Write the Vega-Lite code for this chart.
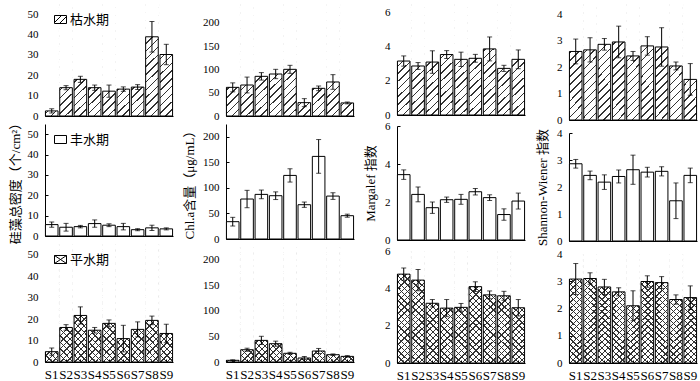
{
"$schema": "https://vega.github.io/schema/vega-lite/v6.json",
"padding": {"left": 8, "top": 4, "right": 0, "bottom": 0},
"datasets": {"d": [
{"m":"A","s":"枯水期","site":"S1","v":2.5,"e":1},{"m":"A","s":"枯水期","site":"S2","v":13.9,"e":1},{"m":"A","s":"枯水期","site":"S3","v":18.0,"e":1.5},{"m":"A","s":"枯水期","site":"S4","v":13.9,"e":1.3},{"m":"A","s":"枯水期","site":"S5","v":12.2,"e":3},{"m":"A","s":"枯水期","site":"S6","v":13.2,"e":1.1},{"m":"A","s":"枯水期","site":"S7","v":14.2,"e":1.2},{"m":"A","s":"枯水期","site":"S8","v":38.9,"e":7.5},{"m":"A","s":"枯水期","site":"S9","v":30.2,"e":5},
{"m":"A","s":"丰水期","site":"S1","v":5.6,"e":1.3},{"m":"A","s":"丰水期","site":"S2","v":4.3,"e":1.9},{"m":"A","s":"丰水期","site":"S3","v":4.6,"e":0.6},{"m":"A","s":"丰水期","site":"S4","v":6.1,"e":1.8},{"m":"A","s":"丰水期","site":"S5","v":5.3,"e":0.7},{"m":"A","s":"丰水期","site":"S6","v":4.6,"e":1.6},{"m":"A","s":"丰水期","site":"S7","v":3.1,"e":0.5},{"m":"A","s":"丰水期","site":"S8","v":4.0,"e":1.3},{"m":"A","s":"丰水期","site":"S9","v":3.5,"e":0.5},
{"m":"A","s":"平水期","site":"S1","v":4.8,"e":1.7},{"m":"A","s":"平水期","site":"S2","v":16.1,"e":1.3},{"m":"A","s":"平水期","site":"S3","v":21.7,"e":4},{"m":"A","s":"平水期","site":"S4","v":14.8,"e":1.3},{"m":"A","s":"平水期","site":"S5","v":18.0,"e":1.6},{"m":"A","s":"平水期","site":"S6","v":10.9,"e":6.2},{"m":"A","s":"平水期","site":"S7","v":15.2,"e":3.5},{"m":"A","s":"平水期","site":"S8","v":19.4,"e":2},{"m":"A","s":"平水期","site":"S9","v":13.3,"e":4.3},
{"m":"B","s":"枯水期","site":"S1","v":61.4,"e":9.6},{"m":"B","s":"枯水期","site":"S2","v":66.4,"e":17},{"m":"B","s":"枯水期","site":"S3","v":85,"e":8},{"m":"B","s":"枯水期","site":"S4","v":90,"e":10},{"m":"B","s":"枯水期","site":"S5","v":100,"e":8.6},{"m":"B","s":"枯水期","site":"S6","v":28.6,"e":8.6},{"m":"B","s":"枯水期","site":"S7","v":59.3,"e":5},{"m":"B","s":"枯水期","site":"S8","v":72.9,"e":15.7},{"m":"B","s":"枯水期","site":"S9","v":28,"e":2},
{"m":"B","s":"丰水期","site":"S1","v":33.9,"e":8.5},{"m":"B","s":"丰水期","site":"S2","v":78.2,"e":17},{"m":"B","s":"丰水期","site":"S3","v":87.3,"e":8.5},{"m":"B","s":"丰水期","site":"S4","v":84.7,"e":7.5},{"m":"B","s":"丰水期","site":"S5","v":124.4,"e":13},{"m":"B","s":"丰水期","site":"S6","v":67.1,"e":5.2},{"m":"B","s":"丰水期","site":"S7","v":161.6,"e":33},{"m":"B","s":"丰水期","site":"S8","v":84,"e":6.5},{"m":"B","s":"丰水期","site":"S9","v":45.6,"e":3},
{"m":"B","s":"平水期","site":"S1","v":3.3,"e":1},{"m":"B","s":"平水期","site":"S2","v":24,"e":3},{"m":"B","s":"平水期","site":"S3","v":42.3,"e":8},{"m":"B","s":"平水期","site":"S4","v":35.8,"e":5},{"m":"B","s":"平水期","site":"S5","v":17,"e":2},{"m":"B","s":"平水期","site":"S6","v":7.8,"e":3},{"m":"B","s":"平水期","site":"S7","v":21.5,"e":5},{"m":"B","s":"平水期","site":"S8","v":14.3,"e":1.5},{"m":"B","s":"平水期","site":"S9","v":11,"e":1.5},
{"m":"C","s":"枯水期","site":"S1","v":3.16,"e":0.3},{"m":"C","s":"枯水期","site":"S2","v":2.87,"e":0.2},{"m":"C","s":"枯水期","site":"S3","v":3.1,"e":0.66},{"m":"C","s":"枯水期","site":"S4","v":3.54,"e":0.23},{"m":"C","s":"枯水期","site":"S5","v":3.26,"e":0.42},{"m":"C","s":"枯水期","site":"S6","v":3.32,"e":0.23},{"m":"C","s":"枯水期","site":"S7","v":3.87,"e":0.7},{"m":"C","s":"枯水期","site":"S8","v":2.73,"e":0.18},{"m":"C","s":"枯水期","site":"S9","v":3.26,"e":0.55},
{"m":"C","s":"丰水期","site":"S1","v":3.44,"e":0.25},{"m":"C","s":"丰水期","site":"S2","v":2.4,"e":0.39},{"m":"C","s":"丰水期","site":"S3","v":1.7,"e":0.3},{"m":"C","s":"丰水期","site":"S4","v":2.12,"e":0.14},{"m":"C","s":"丰水期","site":"S5","v":2.14,"e":0.26},{"m":"C","s":"丰水期","site":"S6","v":2.54,"e":0.17},{"m":"C","s":"丰水期","site":"S7","v":2.23,"e":0.15},{"m":"C","s":"丰水期","site":"S8","v":1.34,"e":0.3},{"m":"C","s":"丰水期","site":"S9","v":2.05,"e":0.42},
{"m":"C","s":"平水期","site":"S1","v":4.76,"e":0.33},{"m":"C","s":"平水期","site":"S2","v":4.44,"e":0.57},{"m":"C","s":"平水期","site":"S3","v":3.2,"e":0.2},{"m":"C","s":"平水期","site":"S4","v":2.94,"e":0.46},{"m":"C","s":"平水期","site":"S5","v":2.98,"e":0.21},{"m":"C","s":"平水期","site":"S6","v":4.09,"e":0.26},{"m":"C","s":"平水期","site":"S7","v":3.65,"e":0.21},{"m":"C","s":"平水期","site":"S8","v":3.6,"e":0.24},{"m":"C","s":"平水期","site":"S9","v":2.96,"e":0.44},
{"m":"D","s":"枯水期","site":"S1","v":2.6,"e":0.47},{"m":"D","s":"枯水期","site":"S2","v":2.66,"e":0.46},{"m":"D","s":"枯水期","site":"S3","v":2.87,"e":0.22},{"m":"D","s":"枯水期","site":"S4","v":2.96,"e":0.6},{"m":"D","s":"枯水期","site":"S5","v":2.43,"e":0.17},{"m":"D","s":"枯水期","site":"S6","v":2.81,"e":0.35},{"m":"D","s":"枯水期","site":"S7","v":2.77,"e":0.73},{"m":"D","s":"枯水期","site":"S8","v":2.05,"e":0.15},{"m":"D","s":"枯水期","site":"S9","v":1.54,"e":0.6},
{"m":"D","s":"丰水期","site":"S1","v":2.86,"e":0.16},{"m":"D","s":"丰水期","site":"S2","v":2.43,"e":0.16},{"m":"D","s":"丰水期","site":"S3","v":2.18,"e":0.27},{"m":"D","s":"丰水期","site":"S4","v":2.39,"e":0.24},{"m":"D","s":"丰水期","site":"S5","v":2.64,"e":0.54},{"m":"D","s":"丰水期","site":"S6","v":2.55,"e":0.18},{"m":"D","s":"丰水期","site":"S7","v":2.58,"e":0.17},{"m":"D","s":"丰水期","site":"S8","v":1.49,"e":0.66},{"m":"D","s":"丰水期","site":"S9","v":2.43,"e":0.27},
{"m":"D","s":"平水期","site":"S1","v":3.08,"e":0.57},{"m":"D","s":"平水期","site":"S2","v":3.1,"e":0.21},{"m":"D","s":"平水期","site":"S3","v":2.79,"e":0.28},{"m":"D","s":"平水期","site":"S4","v":2.61,"e":0.15},{"m":"D","s":"平水期","site":"S5","v":2.1,"e":0.55},{"m":"D","s":"平水期","site":"S6","v":2.99,"e":0.21},{"m":"D","s":"平水期","site":"S7","v":2.95,"e":0.22},{"m":"D","s":"平水期","site":"S8","v":2.33,"e":0.17},{"m":"D","s":"平水期","site":"S9","v":2.4,"e":0.43}
]},
"data": {"name": "d"},
"spacing": 9,
"resolve": {"scale": {"stroke": "independent"}, "legend": {"stroke": "independent"}},
"hconcat": [
{"spacing": 8, "bounds": "flush", "resolve": {"scale": {"stroke": "independent"}, "legend": {"stroke": "independent"}},
 "vconcat": [
  {"width": 128, "height": 112, "transform": [{"filter": "datum.m=='A' && datum.s=='枯水期'"}],
   "encoding": {"x": {"field": "site", "type": "nominal", "scale": {"paddingInner": 0.12, "paddingOuter": 0.03}, "axis": {"labels": false, "title": null, "tickSize": -3}},
     "y": {"field": "v", "type": "quantitative", "scale": {"domain": [0, 55], "nice": false}, "axis": {"values": [0,10,20,30,40,50], "title": null, "tickSize": -3, "labelPadding": 10}}},
   "layer": [
    {"mark": {"type": "bar", "style": "hk"}, "encoding": {"y": {"datum": 55, "type": "quantitative"}, "y2": {"datum": 0}}},
    {"mark": {"type": "bar", "fill": "white", "width": {"band": 1.08}}, "encoding": {"y2": {"datum": 55}}},
    {"mark": {"type": "bar", "fill": "transparent", "stroke": "black", "strokeWidth": 1}, "encoding": {"stroke": {"field": "s", "type": "nominal", "scale": {"range": ["black"]}, "legend": {"orient": "top-left", "offset": 9, "padding": 0, "title": null, "symbolType": "M-1,-0.667H1V0.667H-1Z M-1,0.5L0.167,-0.667 M-0.167,0.667L1,-0.5", "symbolSize": 144, "symbolStrokeWidth": 1, "symbolFillColor": "white", "labelFont": "Noto Sans CJK SC", "labelFontSize": 13, "labelOffset": 3}}}},
    {"mark": {"type": "errorbar", "ticks": {"size": 5}, "color": "black"}, "encoding": {"yError": {"field": "e"}}}
   ]},
  {"width": 128, "height": 112, "transform": [{"filter": "datum.m=='A' && datum.s=='丰水期'"}],
   "encoding": {"x": {"field": "site", "type": "nominal", "scale": {"paddingInner": 0.12, "paddingOuter": 0.03}, "axis": {"labels": false, "title": null, "tickSize": -3}},
     "y": {"field": "v", "type": "quantitative", "scale": {"domain": [0, 55], "nice": false}, "axis": {"values": [0,10,20,30,40,50], "title": "硅藻总密度（个/cm²）", "titlePadding": 5, "tickSize": -3, "labelPadding": 10}}},
   "layer": [
    {"mark": {"type": "bar", "fill": "white", "stroke": "black", "strokeWidth": 1}, "encoding": {"stroke": {"field": "s", "type": "nominal", "scale": {"range": ["black"]}, "legend": {"orient": "top-left", "offset": 9, "padding": 0, "title": null, "symbolType": "M-1,-0.667H1V0.667H-1Z", "symbolSize": 144, "symbolStrokeWidth": 1, "symbolFillColor": "white", "labelFont": "Noto Sans CJK SC", "labelFontSize": 13, "labelOffset": 3}}}},
    {"mark": {"type": "errorbar", "ticks": {"size": 5}, "color": "black"}, "encoding": {"yError": {"field": "e"}}}
   ]},
  {"width": 128, "height": 118, "transform": [{"filter": "datum.m=='A' && datum.s=='平水期'"}],
   "encoding": {"x": {"field": "site", "type": "nominal", "scale": {"paddingInner": 0.12, "paddingOuter": 0.03}, "axis": {"title": null, "labelAngle": 0, "labelFontSize": 13, "labelPadding": 9, "tickSize": -3, "labelOverlap": false}},
     "y": {"field": "v", "type": "quantitative", "scale": {"domain": [0, 55], "nice": false}, "axis": {"values": [0,10,20,30,40,50], "title": null, "tickSize": -3, "labelPadding": 10}}},
   "layer": [
    {"mark": {"type": "bar", "style": "ha"}, "encoding": {"y": {"datum": 55, "type": "quantitative"}, "y2": {"datum": 0}}},
    {"mark": {"type": "bar", "style": "hb"}, "encoding": {"y": {"datum": 55, "type": "quantitative"}, "y2": {"datum": 0}}},
    {"mark": {"type": "bar", "fill": "white", "width": {"band": 1.08}}, "encoding": {"y2": {"datum": 55}}},
    {"mark": {"type": "bar", "fill": "transparent", "stroke": "black", "strokeWidth": 1}, "encoding": {"stroke": {"field": "s", "type": "nominal", "scale": {"range": ["black"]}, "legend": {"orient": "top-left", "offset": 9, "padding": 0, "title": null, "symbolType": "M-1,-0.667H1V0.667H-1Z M-1,-0.667L1,0.667 M1,-0.667L-1,0.667", "symbolSize": 144, "symbolStrokeWidth": 1, "symbolFillColor": "white", "labelFont": "Noto Sans CJK SC", "labelFontSize": 13, "labelOffset": 3}}}},
    {"mark": {"type": "errorbar", "ticks": {"size": 5}, "color": "black"}, "encoding": {"yError": {"field": "e"}}}
   ]}
 ]},
{"spacing": 8, "bounds": "flush",
 "vconcat": [
  {"width": 128, "height": 112, "transform": [{"filter": "datum.m=='B' && datum.s=='枯水期'"}],
   "encoding": {"x": {"field": "site", "type": "nominal", "scale": {"paddingInner": 0.12, "paddingOuter": 0.03}, "axis": {"labels": false, "title": null, "tickSize": -3}},
     "y": {"field": "v", "type": "quantitative", "scale": {"domain": [0, 240], "nice": false}, "axis": {"values": [0,50,100,150,200], "title": null, "tickSize": -3, "labelPadding": 10}}},
   "layer": [
    {"mark": {"type": "bar", "style": "hk"}, "encoding": {"y": {"datum": 240, "type": "quantitative"}, "y2": {"datum": 0}}},
    {"mark": {"type": "bar", "fill": "white", "width": {"band": 1.08}}, "encoding": {"y2": {"datum": 240}}},
    {"mark": {"type": "bar", "fill": "transparent", "stroke": "black", "strokeWidth": 1}},
    {"mark": {"type": "errorbar", "ticks": {"size": 5}, "color": "black"}, "encoding": {"yError": {"field": "e"}}}
   ]},
  {"width": 128, "height": 115, "transform": [{"filter": "datum.m=='B' && datum.s=='丰水期'"}],
   "encoding": {"x": {"field": "site", "type": "nominal", "scale": {"paddingInner": 0.12, "paddingOuter": 0.03}, "axis": {"labels": false, "title": null, "tickSize": -3}},
     "y": {"field": "v", "type": "quantitative", "scale": {"domain": [0, 225], "nice": false}, "axis": {"values": [0,50,100,150,200], "title": "Chl.a含量（μg/mL）", "titlePadding": 6.5, "tickSize": -3, "labelPadding": 10}}},
   "layer": [
    {"mark": {"type": "bar", "fill": "white", "stroke": "black", "strokeWidth": 1}},
    {"mark": {"type": "errorbar", "ticks": {"size": 5}, "color": "black"}, "encoding": {"yError": {"field": "e"}}}
   ]},
  {"width": 128, "height": 115, "transform": [{"filter": "datum.m=='B' && datum.s=='平水期'"}],
   "encoding": {"x": {"field": "site", "type": "nominal", "scale": {"paddingInner": 0.12, "paddingOuter": 0.03}, "axis": {"title": null, "labelAngle": 0, "labelFontSize": 13, "labelPadding": 9, "tickSize": -3, "labelOverlap": false}},
     "y": {"field": "v", "type": "quantitative", "scale": {"domain": [0, 225], "nice": false}, "axis": {"values": [0,50,100,150,200], "title": null, "tickSize": -3, "labelPadding": 10}}},
   "layer": [
    {"mark": {"type": "bar", "style": "ha"}, "encoding": {"y": {"datum": 225, "type": "quantitative"}, "y2": {"datum": 0}}},
    {"mark": {"type": "bar", "style": "hb"}, "encoding": {"y": {"datum": 225, "type": "quantitative"}, "y2": {"datum": 0}}},
    {"mark": {"type": "bar", "fill": "white", "width": {"band": 1.08}}, "encoding": {"y2": {"datum": 225}}},
    {"mark": {"type": "bar", "fill": "transparent", "stroke": "black", "strokeWidth": 1}},
    {"mark": {"type": "errorbar", "ticks": {"size": 5}, "color": "black"}, "encoding": {"yError": {"field": "e"}}}
   ]}
 ]},
{"spacing": 11, "bounds": "flush",
 "vconcat": [
  {"width": 128, "height": 111, "transform": [{"filter": "datum.m=='C' && datum.s=='枯水期'"}],
   "encoding": {"x": {"field": "site", "type": "nominal", "scale": {"paddingInner": 0.12, "paddingOuter": 0.03}, "axis": {"labels": false, "title": null, "tickSize": -3}},
     "y": {"field": "v", "type": "quantitative", "scale": {"domain": [0, 6.5], "nice": false}, "axis": {"values": [0,2,4,6], "title": null, "tickSize": -3, "labelPadding": 10}}},
   "layer": [
    {"mark": {"type": "bar", "style": "hk"}, "encoding": {"y": {"datum": 6.5, "type": "quantitative"}, "y2": {"datum": 0}}},
    {"mark": {"type": "bar", "fill": "white", "width": {"band": 1.08}}, "encoding": {"y2": {"datum": 6.5}}},
    {"mark": {"type": "bar", "fill": "transparent", "stroke": "black", "strokeWidth": 1}},
    {"mark": {"type": "errorbar", "ticks": {"size": 5}, "color": "black"}, "encoding": {"yError": {"field": "e"}}}
   ]},
  {"width": 128, "height": 114, "transform": [{"filter": "datum.m=='C' && datum.s=='丰水期'"}],
   "encoding": {"x": {"field": "site", "type": "nominal", "scale": {"paddingInner": 0.12, "paddingOuter": 0.03}, "axis": {"labels": false, "title": null, "tickSize": -3}},
     "y": {"field": "v", "type": "quantitative", "scale": {"domain": [0, 6], "nice": false}, "axis": {"values": [0,2,4,6], "title": "Margalef 指数", "titlePadding": 7.5, "tickSize": -3, "labelPadding": 10}}},
   "layer": [
    {"mark": {"type": "bar", "fill": "white", "stroke": "black", "strokeWidth": 1}},
    {"mark": {"type": "errorbar", "ticks": {"size": 5}, "color": "black"}, "encoding": {"yError": {"field": "e"}}}
   ]},
  {"width": 128, "height": 112, "transform": [{"filter": "datum.m=='C' && datum.s=='平水期'"}],
   "encoding": {"x": {"field": "site", "type": "nominal", "scale": {"paddingInner": 0.12, "paddingOuter": 0.03}, "axis": {"title": null, "labelAngle": 0, "labelFontSize": 13, "labelPadding": 9, "tickSize": -3, "labelOverlap": false}},
     "y": {"field": "v", "type": "quantitative", "scale": {"domain": [0, 6], "nice": false}, "axis": {"values": [0,2,4,6], "title": null, "tickSize": -3, "labelPadding": 10}}},
   "layer": [
    {"mark": {"type": "bar", "style": "ha"}, "encoding": {"y": {"datum": 6, "type": "quantitative"}, "y2": {"datum": 0}}},
    {"mark": {"type": "bar", "style": "hb"}, "encoding": {"y": {"datum": 6, "type": "quantitative"}, "y2": {"datum": 0}}},
    {"mark": {"type": "bar", "fill": "white", "width": {"band": 1.08}}, "encoding": {"y2": {"datum": 6}}},
    {"mark": {"type": "bar", "fill": "transparent", "stroke": "black", "strokeWidth": 1}},
    {"mark": {"type": "errorbar", "ticks": {"size": 5}, "color": "black"}, "encoding": {"yError": {"field": "e"}}}
   ]}
 ]},
{"spacing": 13, "bounds": "flush",
 "vconcat": [
  {"width": 128, "height": 116, "transform": [{"filter": "datum.m=='D' && datum.s=='枯水期'"}],
   "encoding": {"x": {"field": "site", "type": "nominal", "scale": {"paddingInner": 0.12, "paddingOuter": 0.03}, "axis": {"labels": false, "title": null, "tickSize": -3}},
     "y": {"field": "v", "type": "quantitative", "scale": {"domain": [0, 4.4], "nice": false}, "axis": {"values": [0,1,2,3,4], "title": null, "tickSize": -3, "labelPadding": 10}}},
   "layer": [
    {"mark": {"type": "bar", "style": "hk"}, "encoding": {"y": {"datum": 4.4, "type": "quantitative"}, "y2": {"datum": 0}}},
    {"mark": {"type": "bar", "fill": "white", "width": {"band": 1.08}}, "encoding": {"y2": {"datum": 4.4}}},
    {"mark": {"type": "bar", "fill": "transparent", "stroke": "black", "strokeWidth": 1}},
    {"mark": {"type": "errorbar", "ticks": {"size": 5}, "color": "black"}, "encoding": {"yError": {"field": "e"}}}
   ]},
  {"width": 128, "height": 108, "transform": [{"filter": "datum.m=='D' && datum.s=='丰水期'"}],
   "encoding": {"x": {"field": "site", "type": "nominal", "scale": {"paddingInner": 0.12, "paddingOuter": 0.03}, "axis": {"labels": false, "title": null, "tickSize": -3}},
     "y": {"field": "v", "type": "quantitative", "scale": {"domain": [0, 4], "nice": false}, "axis": {"values": [0,1,2,3,4], "title": "Shannon-Wiener 指数", "titlePadding": 7.5, "tickSize": -3, "labelPadding": 10}}},
   "layer": [
    {"mark": {"type": "bar", "fill": "white", "stroke": "black", "strokeWidth": 1}},
    {"mark": {"type": "errorbar", "ticks": {"size": 5}, "color": "black"}, "encoding": {"yError": {"field": "e"}}}
   ]},
  {"width": 128, "height": 109, "transform": [{"filter": "datum.m=='D' && datum.s=='平水期'"}],
   "encoding": {"x": {"field": "site", "type": "nominal", "scale": {"paddingInner": 0.12, "paddingOuter": 0.03}, "axis": {"title": null, "labelAngle": 0, "labelFontSize": 13, "labelPadding": 9, "tickSize": -3, "labelOverlap": false}},
     "y": {"field": "v", "type": "quantitative", "scale": {"domain": [0, 4], "nice": false}, "axis": {"values": [0,1,2,3,4], "title": null, "tickSize": -3, "labelPadding": 10}}},
   "layer": [
    {"mark": {"type": "bar", "style": "ha"}, "encoding": {"y": {"datum": 4, "type": "quantitative"}, "y2": {"datum": 0}}},
    {"mark": {"type": "bar", "style": "hb"}, "encoding": {"y": {"datum": 4, "type": "quantitative"}, "y2": {"datum": 0}}},
    {"mark": {"type": "bar", "fill": "white", "width": {"band": 1.08}}, "encoding": {"y2": {"datum": 4}}},
    {"mark": {"type": "bar", "fill": "transparent", "stroke": "black", "strokeWidth": 1}},
    {"mark": {"type": "errorbar", "ticks": {"size": 5}, "color": "black"}, "encoding": {"yError": {"field": "e"}}}
   ]}
 ]}
],
"config": {
 "view": {"stroke": null},
 "axis": {"grid": false, "domainColor": "black", "domainWidth": 1, "tickColor": "black", "labelColor": "black", "titleColor": "black", "labelFont": "Liberation Serif", "labelFontSize": 11, "titleFont": "Liberation Serif, Noto Sans CJK SC", "titleFontSize": 13, "titleFontWeight": "normal"},
 "legend": {"labelColor": "black"},
 "style": {
  "hk": {"color": {"gradient": "linear", "x1": 0, "y1": 0, "x2": 0.1213, "y2": 1.0972, "stops": [
{"offset":0,"color":"#333"},{"offset":0.012,"color":"#333"},{"offset":0.012,"color":"#fff"},{"offset":0.0625,"color":"#fff"},
{"offset":0.0625,"color":"#333"},{"offset":0.0745,"color":"#333"},{"offset":0.0745,"color":"#fff"},{"offset":0.125,"color":"#fff"},
{"offset":0.125,"color":"#333"},{"offset":0.137,"color":"#333"},{"offset":0.137,"color":"#fff"},{"offset":0.1875,"color":"#fff"},
{"offset":0.1875,"color":"#333"},{"offset":0.1995,"color":"#333"},{"offset":0.1995,"color":"#fff"},{"offset":0.25,"color":"#fff"},
{"offset":0.25,"color":"#333"},{"offset":0.262,"color":"#333"},{"offset":0.262,"color":"#fff"},{"offset":0.3125,"color":"#fff"},
{"offset":0.3125,"color":"#333"},{"offset":0.3245,"color":"#333"},{"offset":0.3245,"color":"#fff"},{"offset":0.375,"color":"#fff"},
{"offset":0.375,"color":"#333"},{"offset":0.387,"color":"#333"},{"offset":0.387,"color":"#fff"},{"offset":0.4375,"color":"#fff"},
{"offset":0.4375,"color":"#333"},{"offset":0.4495,"color":"#333"},{"offset":0.4495,"color":"#fff"},{"offset":0.5,"color":"#fff"},
{"offset":0.5,"color":"#333"},{"offset":0.512,"color":"#333"},{"offset":0.512,"color":"#fff"},{"offset":0.5625,"color":"#fff"},
{"offset":0.5625,"color":"#333"},{"offset":0.5745,"color":"#333"},{"offset":0.5745,"color":"#fff"},{"offset":0.625,"color":"#fff"},
{"offset":0.625,"color":"#333"},{"offset":0.637,"color":"#333"},{"offset":0.637,"color":"#fff"},{"offset":0.6875,"color":"#fff"},
{"offset":0.6875,"color":"#333"},{"offset":0.6995,"color":"#333"},{"offset":0.6995,"color":"#fff"},{"offset":0.75,"color":"#fff"},
{"offset":0.75,"color":"#333"},{"offset":0.762,"color":"#333"},{"offset":0.762,"color":"#fff"},{"offset":0.8125,"color":"#fff"},
{"offset":0.8125,"color":"#333"},{"offset":0.8245,"color":"#333"},{"offset":0.8245,"color":"#fff"},{"offset":0.875,"color":"#fff"},
{"offset":0.875,"color":"#333"},{"offset":0.887,"color":"#333"},{"offset":0.887,"color":"#fff"},{"offset":0.9375,"color":"#fff"},
{"offset":0.9375,"color":"#333"},{"offset":0.9495,"color":"#333"},{"offset":0.9495,"color":"#fff"},{"offset":1,"color":"#fff"}
  ]}},
  "ha": {"color": {"gradient": "linear", "x1": 0, "y1": 0, "x2": 0.1213, "y2": 1.0972, "stops": [
{"offset":0,"color":"#333"},{"offset":0.011,"color":"#333"},{"offset":0.011,"color":"rgba(255,255,255,0)"},{"offset":0.05,"color":"rgba(255,255,255,0)"},
{"offset":0.05,"color":"#333"},{"offset":0.061,"color":"#333"},{"offset":0.061,"color":"rgba(255,255,255,0)"},{"offset":0.1,"color":"rgba(255,255,255,0)"},
{"offset":0.1,"color":"#333"},{"offset":0.111,"color":"#333"},{"offset":0.111,"color":"rgba(255,255,255,0)"},{"offset":0.15,"color":"rgba(255,255,255,0)"},
{"offset":0.15,"color":"#333"},{"offset":0.161,"color":"#333"},{"offset":0.161,"color":"rgba(255,255,255,0)"},{"offset":0.2,"color":"rgba(255,255,255,0)"},
{"offset":0.2,"color":"#333"},{"offset":0.211,"color":"#333"},{"offset":0.211,"color":"rgba(255,255,255,0)"},{"offset":0.25,"color":"rgba(255,255,255,0)"},
{"offset":0.25,"color":"#333"},{"offset":0.261,"color":"#333"},{"offset":0.261,"color":"rgba(255,255,255,0)"},{"offset":0.3,"color":"rgba(255,255,255,0)"},
{"offset":0.3,"color":"#333"},{"offset":0.311,"color":"#333"},{"offset":0.311,"color":"rgba(255,255,255,0)"},{"offset":0.35,"color":"rgba(255,255,255,0)"},
{"offset":0.35,"color":"#333"},{"offset":0.361,"color":"#333"},{"offset":0.361,"color":"rgba(255,255,255,0)"},{"offset":0.4,"color":"rgba(255,255,255,0)"},
{"offset":0.4,"color":"#333"},{"offset":0.411,"color":"#333"},{"offset":0.411,"color":"rgba(255,255,255,0)"},{"offset":0.45,"color":"rgba(255,255,255,0)"},
{"offset":0.45,"color":"#333"},{"offset":0.461,"color":"#333"},{"offset":0.461,"color":"rgba(255,255,255,0)"},{"offset":0.5,"color":"rgba(255,255,255,0)"},
{"offset":0.5,"color":"#333"},{"offset":0.511,"color":"#333"},{"offset":0.511,"color":"rgba(255,255,255,0)"},{"offset":0.55,"color":"rgba(255,255,255,0)"},
{"offset":0.55,"color":"#333"},{"offset":0.561,"color":"#333"},{"offset":0.561,"color":"rgba(255,255,255,0)"},{"offset":0.6,"color":"rgba(255,255,255,0)"},
{"offset":0.6,"color":"#333"},{"offset":0.611,"color":"#333"},{"offset":0.611,"color":"rgba(255,255,255,0)"},{"offset":0.65,"color":"rgba(255,255,255,0)"},
{"offset":0.65,"color":"#333"},{"offset":0.661,"color":"#333"},{"offset":0.661,"color":"rgba(255,255,255,0)"},{"offset":0.7,"color":"rgba(255,255,255,0)"},
{"offset":0.7,"color":"#333"},{"offset":0.711,"color":"#333"},{"offset":0.711,"color":"rgba(255,255,255,0)"},{"offset":0.75,"color":"rgba(255,255,255,0)"},
{"offset":0.75,"color":"#333"},{"offset":0.761,"color":"#333"},{"offset":0.761,"color":"rgba(255,255,255,0)"},{"offset":0.8,"color":"rgba(255,255,255,0)"},
{"offset":0.8,"color":"#333"},{"offset":0.811,"color":"#333"},{"offset":0.811,"color":"rgba(255,255,255,0)"},{"offset":0.85,"color":"rgba(255,255,255,0)"},
{"offset":0.85,"color":"#333"},{"offset":0.861,"color":"#333"},{"offset":0.861,"color":"rgba(255,255,255,0)"},{"offset":0.9,"color":"rgba(255,255,255,0)"},
{"offset":0.9,"color":"#333"},{"offset":0.911,"color":"#333"},{"offset":0.911,"color":"rgba(255,255,255,0)"},{"offset":0.95,"color":"rgba(255,255,255,0)"},
{"offset":0.95,"color":"#333"},{"offset":0.961,"color":"#333"},{"offset":0.961,"color":"rgba(255,255,255,0)"},{"offset":1,"color":"rgba(255,255,255,0)"}
  ]}},
  "hb": {"color": {"gradient": "linear", "x1": 0, "y1": 1, "x2": 0.1213, "y2": -0.0972, "stops": [
{"offset":0,"color":"#333"},{"offset":0.011,"color":"#333"},{"offset":0.011,"color":"rgba(255,255,255,0)"},{"offset":0.05,"color":"rgba(255,255,255,0)"},
{"offset":0.05,"color":"#333"},{"offset":0.061,"color":"#333"},{"offset":0.061,"color":"rgba(255,255,255,0)"},{"offset":0.1,"color":"rgba(255,255,255,0)"},
{"offset":0.1,"color":"#333"},{"offset":0.111,"color":"#333"},{"offset":0.111,"color":"rgba(255,255,255,0)"},{"offset":0.15,"color":"rgba(255,255,255,0)"},
{"offset":0.15,"color":"#333"},{"offset":0.161,"color":"#333"},{"offset":0.161,"color":"rgba(255,255,255,0)"},{"offset":0.2,"color":"rgba(255,255,255,0)"},
{"offset":0.2,"color":"#333"},{"offset":0.211,"color":"#333"},{"offset":0.211,"color":"rgba(255,255,255,0)"},{"offset":0.25,"color":"rgba(255,255,255,0)"},
{"offset":0.25,"color":"#333"},{"offset":0.261,"color":"#333"},{"offset":0.261,"color":"rgba(255,255,255,0)"},{"offset":0.3,"color":"rgba(255,255,255,0)"},
{"offset":0.3,"color":"#333"},{"offset":0.311,"color":"#333"},{"offset":0.311,"color":"rgba(255,255,255,0)"},{"offset":0.35,"color":"rgba(255,255,255,0)"},
{"offset":0.35,"color":"#333"},{"offset":0.361,"color":"#333"},{"offset":0.361,"color":"rgba(255,255,255,0)"},{"offset":0.4,"color":"rgba(255,255,255,0)"},
{"offset":0.4,"color":"#333"},{"offset":0.411,"color":"#333"},{"offset":0.411,"color":"rgba(255,255,255,0)"},{"offset":0.45,"color":"rgba(255,255,255,0)"},
{"offset":0.45,"color":"#333"},{"offset":0.461,"color":"#333"},{"offset":0.461,"color":"rgba(255,255,255,0)"},{"offset":0.5,"color":"rgba(255,255,255,0)"},
{"offset":0.5,"color":"#333"},{"offset":0.511,"color":"#333"},{"offset":0.511,"color":"rgba(255,255,255,0)"},{"offset":0.55,"color":"rgba(255,255,255,0)"},
{"offset":0.55,"color":"#333"},{"offset":0.561,"color":"#333"},{"offset":0.561,"color":"rgba(255,255,255,0)"},{"offset":0.6,"color":"rgba(255,255,255,0)"},
{"offset":0.6,"color":"#333"},{"offset":0.611,"color":"#333"},{"offset":0.611,"color":"rgba(255,255,255,0)"},{"offset":0.65,"color":"rgba(255,255,255,0)"},
{"offset":0.65,"color":"#333"},{"offset":0.661,"color":"#333"},{"offset":0.661,"color":"rgba(255,255,255,0)"},{"offset":0.7,"color":"rgba(255,255,255,0)"},
{"offset":0.7,"color":"#333"},{"offset":0.711,"color":"#333"},{"offset":0.711,"color":"rgba(255,255,255,0)"},{"offset":0.75,"color":"rgba(255,255,255,0)"},
{"offset":0.75,"color":"#333"},{"offset":0.761,"color":"#333"},{"offset":0.761,"color":"rgba(255,255,255,0)"},{"offset":0.8,"color":"rgba(255,255,255,0)"},
{"offset":0.8,"color":"#333"},{"offset":0.811,"color":"#333"},{"offset":0.811,"color":"rgba(255,255,255,0)"},{"offset":0.85,"color":"rgba(255,255,255,0)"},
{"offset":0.85,"color":"#333"},{"offset":0.861,"color":"#333"},{"offset":0.861,"color":"rgba(255,255,255,0)"},{"offset":0.9,"color":"rgba(255,255,255,0)"},
{"offset":0.9,"color":"#333"},{"offset":0.911,"color":"#333"},{"offset":0.911,"color":"rgba(255,255,255,0)"},{"offset":0.95,"color":"rgba(255,255,255,0)"},
{"offset":0.95,"color":"#333"},{"offset":0.961,"color":"#333"},{"offset":0.961,"color":"rgba(255,255,255,0)"},{"offset":1,"color":"rgba(255,255,255,0)"}
  ]}}
 }
}
}
